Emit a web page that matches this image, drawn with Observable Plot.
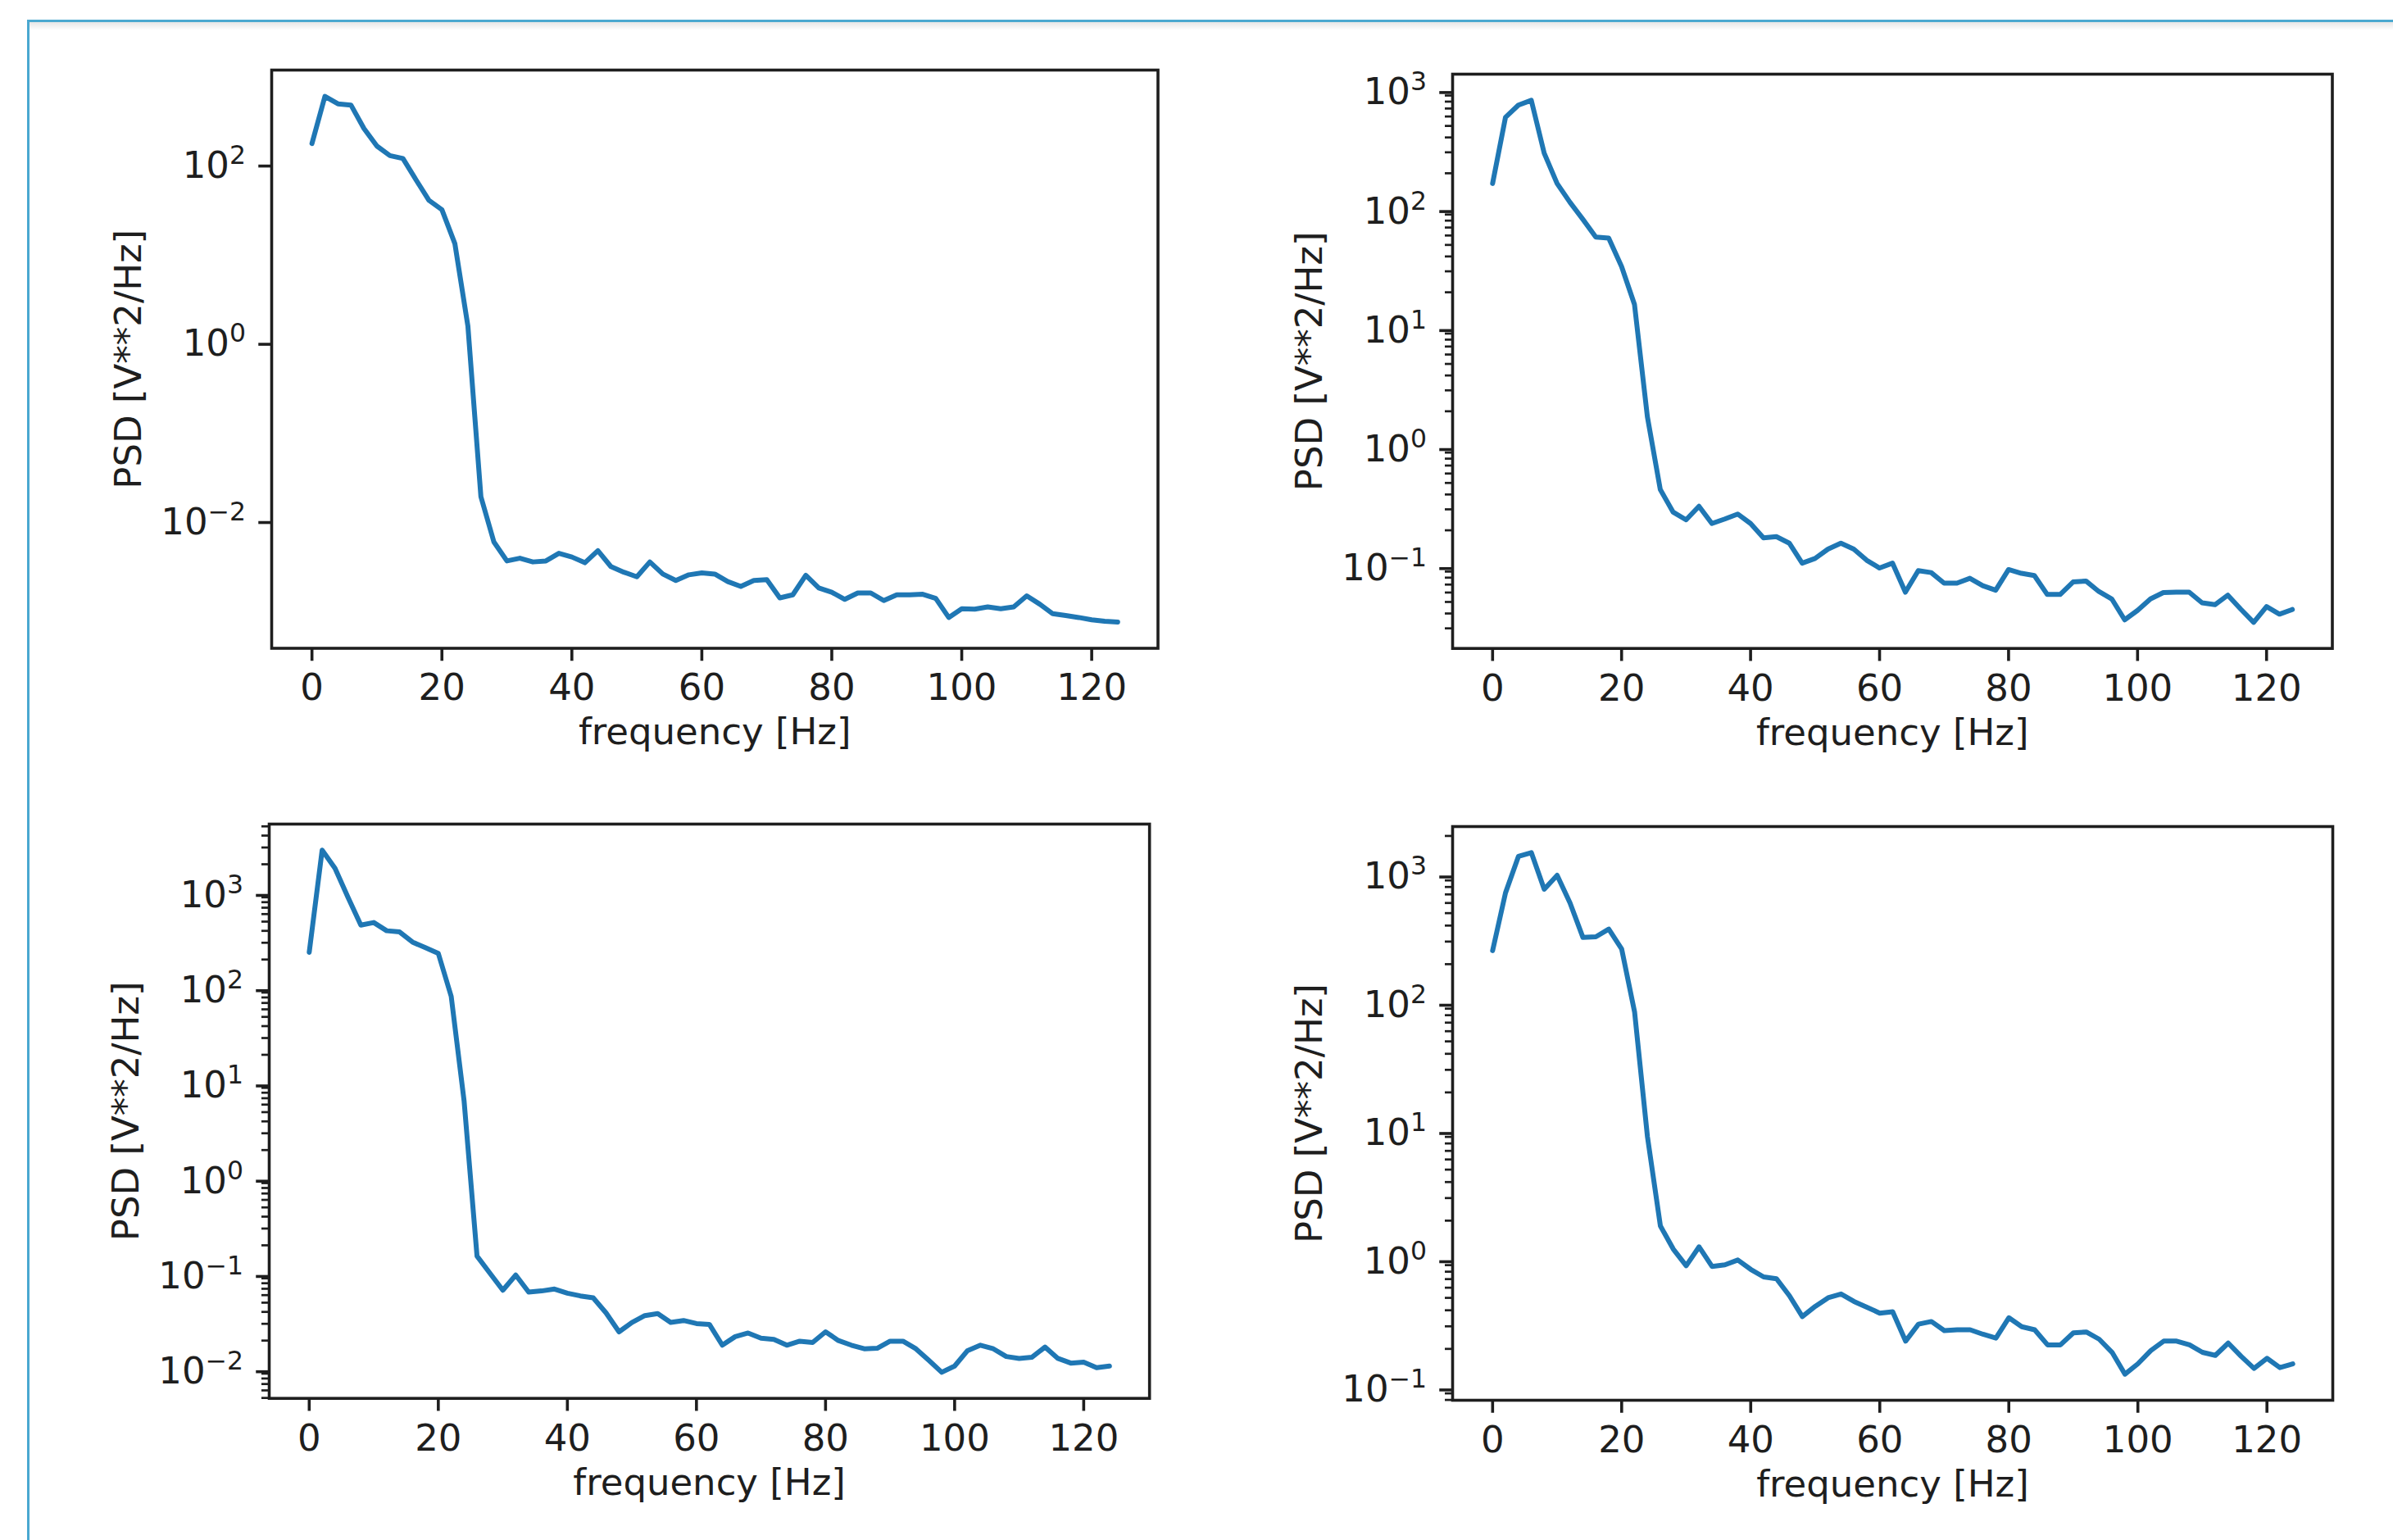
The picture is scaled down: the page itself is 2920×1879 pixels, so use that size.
<!DOCTYPE html>
<html>
<head>
<meta charset="utf-8">
<script src="https://cdn.jsdelivr.net/npm/d3@7"></script>
<script src="https://cdn.jsdelivr.net/npm/@observablehq/plot@0.6"></script>
<style>
html, body { margin: 0; padding: 0; background: #fff; }
body { width: 2920px; height: 1879px; position: relative; overflow: hidden; font-family: "DejaVu Sans", sans-serif; }
#cell { position: absolute; left: 33px; top: 24px; right: -20px; bottom: -20px; border-top: 3px solid #4aa8d0; border-left: 3px solid #4aa8d0; }
#shade { position: absolute; left: 36px; top: 27px; right: 0; height: 10px; background: linear-gradient(#e6e6e6, #ffffff); }
.panel { position: absolute; }
</style>
</head>
<body>
<div id="cell"></div>
<div id="shade"></div>
<script>
// ---------------- data ----------------
const freq = [0,2,4,6,8,10,12,14,16,18,20,22,24,26,28,30,32,34,36,38,40,42,44,46,48,50,52,54,56,58,60,
  62,64,66,68,70,72,74,76,78,80,82,84,86,88,90,92,94,96,98,100,102,104,106,108,110,112,114,116,118,120,122,124];

const psd1 = [168,568,468,454,248,157,123,114,66,38.8,30.4,12.6,1.5,0.0183,0.00568,0.00348,0.00373,0.00339,0.00348,0.00424,
  0.00385,0.00332,0.00454,0.00301,0.0026,0.00231,0.00339,0.00248,0.0021,0.00243,0.00255,
  0.00248,0.00204,0.0018,0.0021,0.00214,0.00134,0.00145,0.0024,0.00173,0.00155,0.00129,0.00152,0.00152,0.00125,0.00145,
  0.00145,0.00147,0.00132,0.000807,0.00101,0.001,0.00106,0.00101,0.00106,0.00141,0.00114,0.00089,0.000848,0.000807,
  0.00076,0.000731,0.000718];

const psd2 = [164,591,747,821,295,164,114,82,58.2,57,32.9,15.8,1.8,0.44,0.284,0.245,0.318,0.228,0.249,0.274,
  0.228,0.173,0.177,0.156,0.106,0.116,0.139,0.156,0.139,0.112,0.0964,
  0.106,0.0604,0.0916,0.0883,0.072,0.072,0.079,0.0684,0.0627,0.0936,0.087,0.0834,0.0578,0.0578,0.0736,
  0.075,0.0612,0.053,0.0354,0.0425,0.053,0.06,0.0604,0.0604,0.0492,0.0474,0.057,0.0435,0.0337,
  0.0457,0.0395,0.0432];

const psd3 = [238,2810,1811,900,459,489,401,390,305,266,232,82,6.5,0.154,0.102,0.0676,0.0975,0.0646,0.0664,0.0695,
  0.0629,0.0589,0.0563,0.039,0.0247,0.031,0.0366,0.0384,0.031,0.0325,0.0302,
  0.0296,0.0179,0.022,0.024,0.0212,0.0206,0.0179,0.0197,0.0191,0.0247,0.02,0.0179,0.0164,0.0166,0.0197,
  0.0197,0.0164,0.0124,0.0093,0.0108,0.0157,0.0179,0.0164,0.0136,0.013,0.0134,0.0171,0.013,0.0116,
  0.0119,0.0104,0.0108];

const psd4 = [255,720,1384,1482,768,986,600,323,327,375,263,85,9,1.82,1.2,0.89,1.25,0.879,0.904,0.987,
  0.834,0.728,0.704,0.519,0.357,0.429,0.501,0.536,0.469,0.423,0.38,
  0.39,0.23,0.312,0.327,0.278,0.282,0.282,0.26,0.243,0.35,0.298,0.282,0.215,0.215,0.267,
  0.271,0.238,0.188,0.127,0.153,0.194,0.23,0.23,0.215,0.188,0.178,0.222,0.175,0.141,
  0.169,0.143,0.153];

const xTicks = [0, 20, 40, 60, 80, 100, 120];
const yTicks1 = [1e-2, 1e0, 1e2];
const yLabels1 = ["10^\u22122", "10^0", "10^2"];
const yTicks2 = [1e-1, 1e0, 1e1, 1e2, 1e3];
const yLabels2 = ["10^\u22121", "10^0", "10^1", "10^2", "10^3"];
const yTicks3 = [1e-2, 1e-1, 1e0, 1e1, 1e2, 1e3];
const yLabels3 = ["10^\u22122", "10^\u22121", "10^0", "10^1", "10^2", "10^3"];
const yTicks4 = [1e-1, 1e0, 1e1, 1e2, 1e3];
const yLabels4 = ["10^\u22121", "10^0", "10^1", "10^2", "10^3"];

const xLabel = "frequency [Hz]";
const yLabel = "PSD [V**2/Hz]";

// ---------------- layout (frame bounds in page px) ----------------
const panels = [
  {psd: psd1, ticks: yTicks1, labels: yLabels1, minor: false, frame: [330.5, 1412, 84.8, 790.3]},
  {psd: psd2, ticks: yTicks2, labels: yLabels2, minor: true,  frame: [1772, 2845.5, 90, 790.7]},
  {psd: psd3, ticks: yTicks3, labels: yLabels3, minor: true,  frame: [327.8, 1402, 1005, 1705.7]},
  {psd: psd4, ticks: yTicks4, labels: yLabels4, minor: true,  frame: [1771.5, 2845.5, 1008, 1708]}
];

const FS = 45;            // font size px
const MAJ = 15.75;        // major tick length
const INK = "#1e1e1e";
const LINE = "#1f77b4";

function superscriptify(svg) {
  const ns = "http://www.w3.org/2000/svg";
  svg.querySelectorAll('g[aria-label="y-axis tick label"] text').forEach(t => {
    const s = t.textContent;
    const parts = s.split("^");
    if (parts.length !== 2) return;
    while (t.firstChild) t.removeChild(t.firstChild);
    const a = document.createElementNS(ns, "tspan");
    a.textContent = parts[0];
    const b = document.createElementNS(ns, "tspan");
    b.textContent = parts[1];
    b.setAttribute("font-size", (FS * 0.7) + "px");
    b.setAttribute("dy", "-17");
    t.append(a, b);
  });
}

panels.forEach(p => {
  const [fx0, fx1, fy0, fy1] = p.frame;
  const padL = 260, padT = 40, padR = 30, padB = 170;
  const left = fx0 - padL, top = fy0 - padT;
  const width = fx1 - left + padR, height = fy1 - top + padB;

  const data = freq.map((f, i) => ({f, p: p.psd[i]}));
  // matplotlib-like 5% autoscale margins (log space for y)
  const [fmin, fmax] = d3.extent(freq);
  const fpad = (fmax - fmin) * 0.05;
  const lo = Math.log10(d3.min(p.psd)), hi = Math.log10(d3.max(p.psd));
  const lpad = (hi - lo) * 0.05;
  const yDom = [10 ** (lo - lpad), 10 ** (hi + lpad)];

  const minors = [];
  if (p.minor) {
    for (let e = Math.floor(lo - lpad); e <= Math.ceil(hi + lpad); e++) {
      for (let m = 2; m <= 9; m++) {
        const v = m * 10 ** e;
        if (v >= yDom[0] && v <= yDom[1]) minors.push(v);
      }
    }
  }

  const chart = Plot.plot({
    width, height,
    marginLeft: padL, marginRight: padR, marginTop: padT, marginBottom: padB,
    style: {fontFamily: "'DejaVu Sans', sans-serif", fontSize: FS + "px", color: INK, background: "transparent", overflow: "visible"},
    x: {domain: [fmin - fpad, fmax + fpad], label: null},
    y: {type: "log", domain: yDom, label: null},
    marks: [
      p.minor ? Plot.axisY({ticks: minors, tickSize: 9, strokeWidth: 2.7, stroke: INK, fill: "none", tickFormat: () => "", label: null}) : null,
      Plot.axisY({ticks: p.ticks, tickSize: MAJ, tickPadding: MAJ, strokeWidth: 3.6, stroke: INK, fill: INK,
        tickFormat: d => p.labels[p.ticks.findIndex(t => Math.abs(t - d) / t < 1e-9)], dy: 3, label: null}),
      Plot.axisX({ticks: xTicks, tickSize: MAJ, tickPadding: MAJ, strokeWidth: 3.6, stroke: INK, fill: INK,
        tickFormat: d => String(d), label: null}),
      Plot.line(data, {x: "f", y: "p", stroke: LINE, strokeWidth: 6}),
      Plot.frame({stroke: INK, strokeWidth: 3.6}),
      Plot.text([xLabel], {frameAnchor: "bottom", lineAnchor: "middle", textAnchor: "middle", dy: 103, fill: INK, fontSize: FS}),
      Plot.text([yLabel], {frameAnchor: "left", lineAnchor: "middle", textAnchor: "middle", dx: -174, rotate: -90, fill: INK, fontSize: FS})
    ]
  });
  superscriptify(chart);
  chart.classList.add("panel");
  chart.style.left = left + "px";
  chart.style.top = top + "px";
  document.body.appendChild(chart);
});
</script>
</body>
</html>
